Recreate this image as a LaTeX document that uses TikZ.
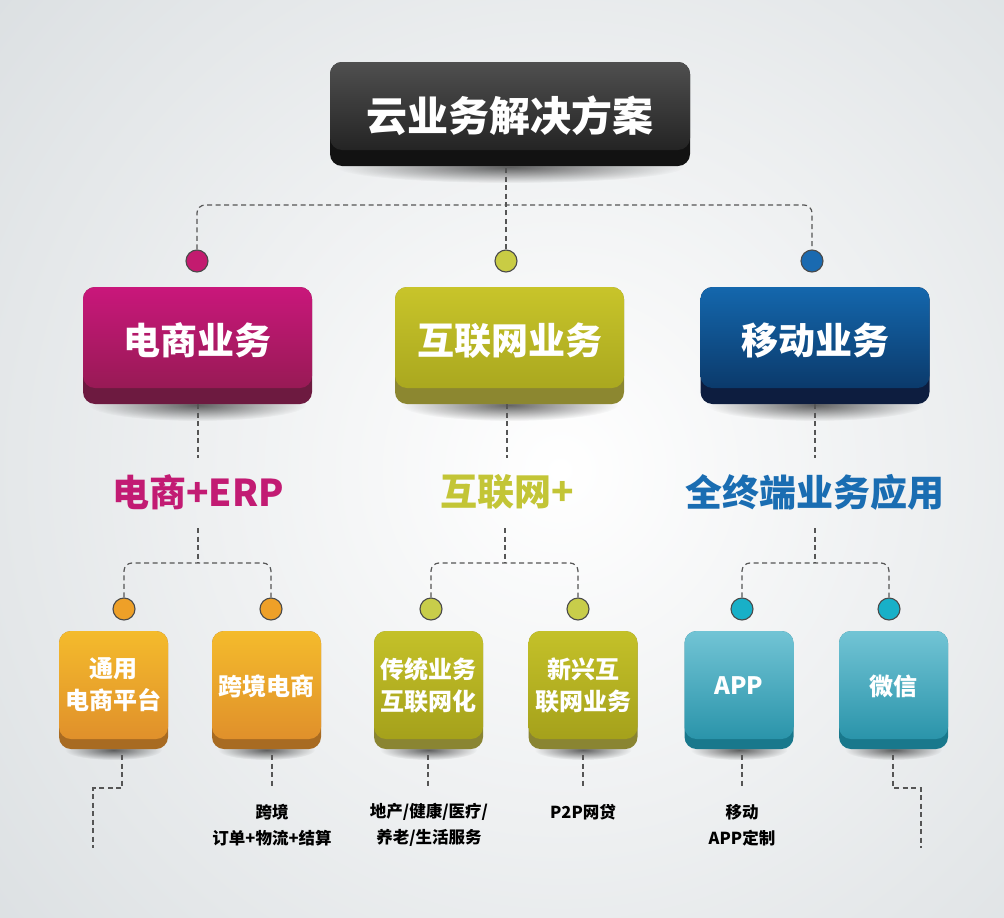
\documentclass[tikz,border=0pt]{standalone}
\usepackage{fontspec}
\setmainfont{Noto Sans CJK SC}
\usetikzlibrary{calc,fadings}
\definecolor{bgc}{HTML}{D4D9DC}
\definecolor{dashgray}{HTML}{555555}
\definecolor{dotline}{HTML}{4A4A4A}
\definecolor{topT}{HTML}{4F4F4F}\definecolor{topB}{HTML}{242424}\definecolor{topL}{HTML}{121212}
\definecolor{magT}{HTML}{C9177B}\definecolor{magB}{HTML}{981A55}\definecolor{magL}{HTML}{6D1A40}
\definecolor{oliT}{HTML}{C8C42A}\definecolor{oliB}{HTML}{AAA81F}\definecolor{oliL}{HTML}{8C8730}
\definecolor{bluT}{HTML}{1467AD}\definecolor{bluB}{HTML}{0B3A6B}\definecolor{bluL}{HTML}{0D1D3F}
\definecolor{orgT}{HTML}{F4BB2C}\definecolor{orgB}{HTML}{E0902B}\definecolor{orgL}{HTML}{A86B22}
\definecolor{solT}{HTML}{C4C129}\definecolor{solB}{HTML}{A5A11B}\definecolor{solL}{HTML}{8A8532}
\definecolor{teaT}{HTML}{72C4D5}\definecolor{teaB}{HTML}{2A94AA}\definecolor{teaL}{HTML}{19788C}
\definecolor{dmag}{HTML}{C31B6F}\definecolor{doli}{HTML}{C9CC44}\definecolor{dblu}{HTML}{1A6AB0}
\definecolor{dorg}{HTML}{EEA028}\definecolor{dsol}{HTML}{C8CD4A}\definecolor{dtea}{HTML}{18B0C8}
\definecolor{cmag}{HTML}{C21B73}\definecolor{coli}{HTML}{C3C536}\definecolor{cblu}{HTML}{1A6DB2}
\tikzfading[name=softshadow, inner color=transparent!0, outer color=transparent!100]
\tikzset{
  conn/.style={draw=dashgray, line width=1.2pt, dash pattern=on 5pt off 3.5pt},
  dotn/.style={circle, draw=dotline, line width=1.1pt, minimum size=22pt, inner sep=0pt},
  facebox/.style={rounded corners=12pt, inner sep=0pt},
  boxtext/.style={text=white, align=center, inner sep=0pt},
  cattext/.style={font=\bfseries\fontsize{37}{42}\selectfont, inner sep=0pt},
  subtext/.style={font=\bfseries\fontsize{16.5}{26}\selectfont, align=center, text=black, inner sep=0pt},
}
% #1 name, #2 center, #3 width, #4 face height, #5 lip, #6 colour prefix, #7 font, #8 text, #9 text yshift
\newcommand\skbox[9]{%
  \fill[black, opacity=.6, path fading=softshadow] ($(#2)+(0,#4/2+#5+1)$) ellipse ({#3/2-6} and {#5});
  \fill[#6L, rounded corners=12pt] ($(#2)+(-#3/2,-#4/2)$) rectangle ($(#2)+(#3/2,#4/2+#5)$);
  \node[facebox, minimum width=#3pt, minimum height=#4pt, top color=#6T, bottom color=#6B] (#1) at (#2) {};
  \node[boxtext, font=\bfseries#7] (#1t) at ($(#1)+(0,#9)$) {#8};
}
\begin{document}
\begin{tikzpicture}[x=1pt,y=-1pt]
\useasboundingbox (0,0) rectangle (1004,918);
\fill[bgc] (0,0) rectangle (1004,918);
\begin{scope}
  \clip (0,0) rectangle (1004,918);
  \shade[inner color=white, outer color=bgc] (560,470) circle (900);
\end{scope}

% top box
\skbox{top}{510,106}{360}{88}{16}{top}{\fontsize{41}{48}\selectfont}{云业务解决方案}{10}

% level-1 boxes
\skbox{b1}{197.5,337.5}{229}{101}{16}{mag}{\fontsize{37}{44}\selectfont}{电商业务}{3}
\skbox{b2}{509.5,337.5}{229}{101}{16}{oli}{\fontsize{37}{44}\selectfont}{互联网业务}{3}
\skbox{b3}{815,337.5}{229}{101}{16}{blu}{\fontsize{37}{44}\selectfont}{移动业务}{3}

% level-2 boxes
\skbox{s1}{113.5,685}{109}{108}{10}{org}{\fontsize{24}{32}\selectfont}{通用\\电商平台}{0}
\skbox{s2}{266.5,685}{109}{108}{10}{org}{\fontsize{24}{32}\selectfont}{跨境电商}{1}
\skbox{s3}{428.5,685}{109}{108}{10}{sol}{\fontsize{24}{32}\selectfont}{传统业务\\互联网化}{0}
\skbox{s4}{583,685}{109}{108}{10}{sol}{\fontsize{24}{32}\selectfont}{新兴互\\联网业务}{0}
\skbox{s5}{739,685}{109}{108}{10}{tea}{\fontsize{24}{32}\selectfont}{APP}{1}
\skbox{s6}{893.5,685}{109}{108}{10}{tea}{\fontsize{24}{32}\selectfont}{微信}{1}

% level-1 dots
\node[dotn, fill=dmag] (d1) at (197,261) {};
\node[dotn, fill=doli] (d2) at (506,261) {};
\node[dotn, fill=dblu] (d3) at (812,261) {};

% level-2 dots
\node[dotn, fill=dorg] (e1) at (124,609) {};
\node[dotn, fill=dorg] (e2) at (271,609) {};
\node[dotn, fill=dsol] (e3) at (431,609) {};
\node[dotn, fill=dsol] (e4) at (578,609) {};
\node[dotn, fill=dtea] (e5) at (742,609) {};
\node[dotn, fill=dtea] (e6) at (889,609) {};

% category labels
\node[cattext, text=cmag] (c1) at (198,492) {电商+ERP};
\node[cattext, text=coli] (c2) at (507,492) {互联网+};
\node[cattext, text=cblu] (c3) at (815,492) {全终端业务应用};

% sub texts
\node[subtext] (t2) at (272,825) {跨境\\订单+物流+结算};
\node[subtext] (t3) at (429,825) {地产/健康/医疗/\\养老/生活服务};
\node[subtext] (t4) at (583,812) {P2P网贷};
\node[subtext] (t5) at (742,825) {移动\\APP定制};

% connector coordinates
\coordinate (j0) at (506,205);
\coordinate (topend) at (506,168);
\coordinate (m1a) at (198,404); \coordinate (m1b) at (198,458);
\coordinate (m2a) at (507,404); \coordinate (m2b) at (507,458);
\coordinate (m3a) at (815,404); \coordinate (m3b) at (815,458);
\coordinate (k1) at (198,528); \coordinate (h1) at (198,563);
\coordinate (k2) at (505,528); \coordinate (h2) at (505,563);
\coordinate (k3) at (815,528); \coordinate (h3) at (815,563);
\coordinate (u1) at (122,755); \coordinate (v1) at (93,848);
\coordinate (u2) at (272,755); \coordinate (w2) at (272,788);
\coordinate (u3) at (428,755); \coordinate (w3) at (428,788);
\coordinate (u4) at (583,755); \coordinate (w4) at (583,788);
\coordinate (u5) at (742,755); \coordinate (w5) at (742,788);
\coordinate (u6) at (893,755); \coordinate (v6) at (921,848);

% connectors
\draw[conn] (topend) -- (j0);
\draw[conn, rounded corners=8pt] (d1.north) |- (j0) -| (d3.north);
\draw[conn] (d2.north) -- (d2.north |- j0);
\draw[conn] (m1a) -- (m1b);
\draw[conn] (m2a) -- (m2b);
\draw[conn] (m3a) -- (m3b);
\draw[conn] (k1) -- (h1);
\draw[conn] (k2) -- (h2);
\draw[conn] (k3) -- (h3);
\draw[conn, rounded corners=8pt] (e1.north) |- (h1) -| (e2.north);
\draw[conn, rounded corners=8pt] (e3.north) |- (h2) -| (e4.north);
\draw[conn, rounded corners=8pt] (e5.north) |- (h3) -| (e6.north);
\draw[conn] (u1) |- ($(u1)+(0,33)$) -| (v1);
\draw[conn] (u2) -- (w2);
\draw[conn] (u3) -- (w3);
\draw[conn] (u4) -- (w4);
\draw[conn] (u5) -- (w5);
\draw[conn] (u6) |- ($(u6)+(0,33)$) -| (v6);
\end{tikzpicture}
\end{document}
